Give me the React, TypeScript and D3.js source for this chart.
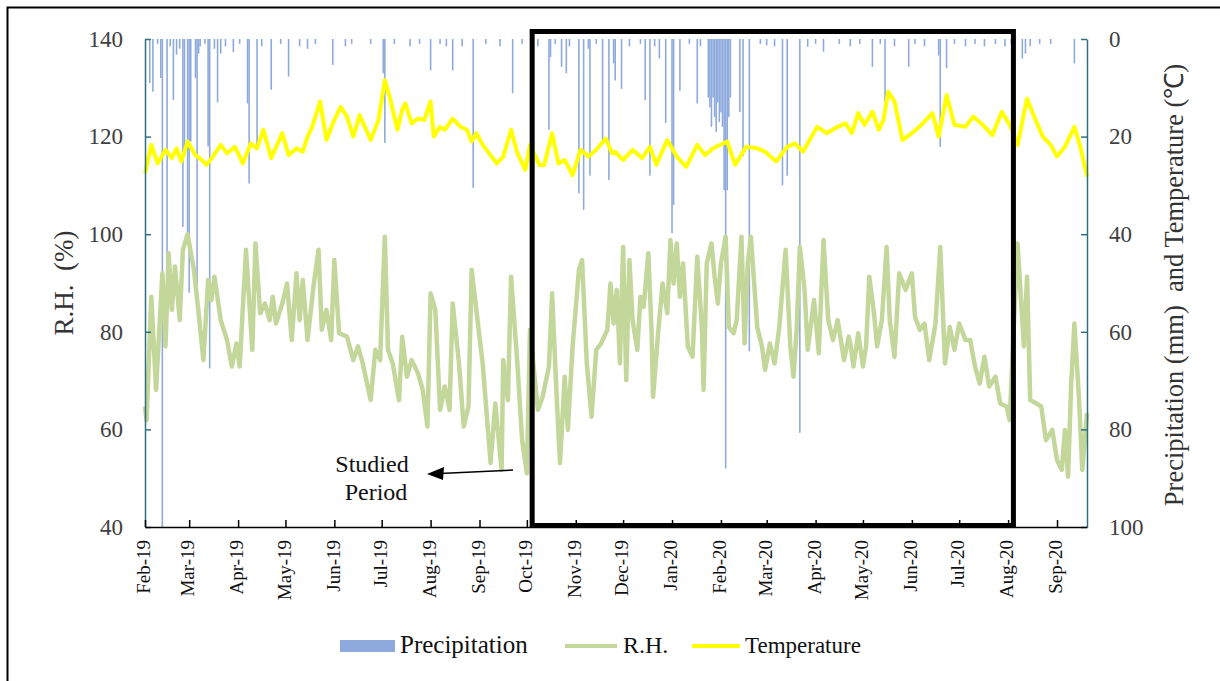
import React, { useEffect, useRef } from "react";
import * as d3 from "d3";

// day offsets are counted from 1 Feb 2019
const startDate = new Date(2019, 1, 1);
const lastDay = 597;

const monthLabels = [
  "Feb-19", "Mar-19", "Apr-19", "May-19", "Jun-19", "Jul-19", "Aug-19", "Sep-19", "Oct-19", "Nov-19",
  "Dec-19", "Jan-20", "Feb-20", "Mar-20", "Apr-20", "May-20", "Jun-20", "Jul-20", "Aug-20", "Sep-20",
];

const rhTicks = [40, 60, 80, 100, 120, 140];
const rightTicks = [0, 20, 40, 60, 80, 100];

// [day, °C]
const tempData = [
  [0, 27.5], [4, 21.7], [8, 25.5], [13, 22.7], [17, 24.4], [20, 22.4], [23, 25.1], [27, 21.0], [32, 23.8], [36, 24.8],
  [39, 25.8], [43, 24.1], [48, 21.7], [52, 23.4], [57, 22.1], [62, 25.5], [67, 21.4], [71, 22.4], [75, 18.6], [80, 24.4],
  [87, 19.3], [91, 23.8], [96, 22.4], [100, 23.1], [103, 20.0], [106, 18.0], [111, 12.8], [115, 20.7], [119, 17.3],
  [124, 13.9], [128, 15.9], [132, 20.0], [136, 15.6], [143, 20.7], [148, 16.6], [152, 8.4], [155, 11.8], [160, 18.6],
  [163, 14.5], [165, 13.2], [169, 17.3], [173, 16.3], [177, 16.6], [181, 12.8], [183, 20.0], [187, 18.0], [190, 18.6],
  [195, 16.3], [200, 18.0], [204, 18.6], [207, 21.0], [210, 19.3], [214, 21.7], [219, 23.8], [223, 25.5], [227, 24.1],
  [232, 18.6], [236, 23.4], [241, 26.8], [244, 21.7], [250, 25.8], [253, 25.8], [258, 19.3], [262, 25.5], [266, 24.8],
  [271, 27.9], [276, 22.7], [281, 24.1], [286, 22.7], [292, 20.4], [296, 23.4], [298, 23.1], [303, 24.8], [309, 22.7],
  [315, 24.4], [320, 22.1], [324, 25.8], [331, 20.7], [337, 24.1], [343, 26.2], [350, 21.7], [355, 23.8], [360, 22.4],
  [369, 21.0], [374, 25.8], [381, 22.1], [388, 22.4], [393, 23.1], [400, 25.1], [407, 22.1], [412, 21.4], [417, 23.1],
  [426, 18.0], [432, 19.3], [439, 18.0], [444, 17.3], [448, 19.3], [452, 15.2], [456, 17.6], [461, 14.9], [465, 18.6],
  [468, 16.6], [471, 10.8], [475, 12.8], [480, 20.7], [486, 19.3], [492, 17.6], [499, 15.2], [503, 20.0], [508, 11.5],
  [513, 17.6], [520, 18.0], [525, 15.9], [531, 17.6], [537, 19.7], [543, 14.9], [548, 17.6], [553, 21.7], [559, 12.2],
  [564, 16.3], [569, 20.0], [574, 21.7], [578, 24.1], [583, 22.1], [589, 18.0], [593, 22.4], [597, 28.2],
];

// [day, %]
const rhData = [
  [0, 64.7], [1, 61.9], [4, 87.2], [7, 68.1], [11, 92.0], [13, 77.0], [15, 96.1], [17, 84.5], [19, 93.4], [22, 82.4],
  [24, 96.8], [27, 100], [31, 92.7], [34, 83.8], [37, 74.2], [40, 90.6], [42, 86.5], [44, 91.3], [48, 82.4], [52, 78.3],
  [55, 72.9], [58, 77.6], [60, 72.9], [64, 96.8], [68, 76.3], [70, 98.1], [73, 83.8], [76, 85.8], [79, 82.4], [81, 87.2],
  [83, 81.7], [87, 85.8], [90, 89.9], [93, 78.3], [96, 92.0], [98, 82.4], [100, 90.6], [103, 78.3], [107, 89.9],
  [110, 96.8], [112, 80.4], [115, 84.5], [118, 78.3], [120, 94.7], [123, 79.7], [128, 79.0], [132, 74.2], [135, 77.0],
  [138, 73.5], [143, 66.0], [146, 76.3], [149, 74.2], [152, 99.5], [154, 76.3], [157, 73.5], [161, 66.0], [163, 79.0],
  [166, 70.8], [169, 74.2], [173, 71.5], [176, 68.1], [179, 60.6], [181, 87.9], [184, 84.5], [187, 64.0], [190, 68.8],
  [193, 64.0], [195, 85.8], [199, 73.5], [202, 60.6], [205, 64.7], [207, 92.7], [211, 81.7], [214, 73.5], [219, 53.1],
  [222, 65.3], [226, 51.7], [227, 74.2], [230, 66.0], [232, 91.3], [236, 73.5], [239, 57.8], [242, 51.0], [244, 80.4],
  [249, 64.0], [252, 66.7], [256, 72.9], [258, 87.9], [261, 66.0], [263, 53.1], [266, 70.8], [268, 59.9], [271, 77.0],
  [275, 92.7], [277, 94.7], [280, 73.5], [283, 62.6], [286, 76.3], [289, 77.6], [293, 80.4], [295, 89.9], [297, 81.7],
  [299, 88.6], [301, 73.5], [303, 97.4], [305, 70.1], [307, 94.7], [309, 82.4], [312, 76.3], [314, 87.2], [316, 85.1],
  [319, 96.1], [321, 80.4], [322, 66.7], [325, 79.0], [328, 89.9], [331, 83.8], [333, 98.8], [335, 89.9], [337, 98.1],
  [339, 87.2], [341, 94.0], [344, 77.0], [347, 74.9], [350, 95.4], [353, 80.4], [354, 68.1], [356, 94.0], [359, 98.1],
  [361, 91.3], [363, 85.8], [365, 94.0], [368, 99.5], [370, 81.0], [373, 79.7], [375, 82.4], [378, 99.5], [380, 77.6],
  [382, 94.0], [384, 99.5], [388, 81.0], [391, 77.0], [393, 72.2], [396, 77.6], [399, 73.5], [402, 81.0], [406, 96.8],
  [409, 77.0], [411, 70.8], [413, 80.4], [415, 97.4], [418, 88.6], [420, 76.3], [424, 86.5], [427, 75.6], [430, 98.8],
  [433, 82.4], [436, 78.3], [439, 82.4], [443, 74.2], [446, 79.0], [447, 77.6], [449, 72.9], [452, 79.7], [455, 72.9],
  [457, 77.0], [459, 91.3], [462, 83.8], [464, 77.0], [467, 82.4], [470, 97.4], [472, 82.4], [475, 74.9], [478, 92.0],
  [482, 88.6], [486, 92.0], [488, 83.1], [491, 80.4], [494, 81.7], [497, 74.2], [501, 81.7], [504, 97.4], [507, 73.5],
  [510, 81.0], [513, 76.3], [516, 81.7], [520, 78.3], [523, 78.3], [526, 72.9], [529, 69.4], [532, 74.9], [535, 68.8],
  [539, 70.8], [542, 65.3], [546, 64.7], [548, 61.9], [553, 98.1], [557, 77.0], [559, 91.3], [561, 66.0], [565, 65.3],
  [568, 64.7], [571, 57.8], [575, 59.9], [578, 53.7], [581, 51.7], [583, 59.9], [585, 50.3], [587, 69.4], [589, 81.7],
  [592, 66.0], [594, 51.7], [597, 63.3],
];

// [day, mm]
const precipData = [
  [3, 9], [5, 10.8], [8, 1], [10, 8], [11, 100], [14, 46.6], [16, 1.5], [18, 12.5], [20, 3.2], [22, 2], [24, 38.5],
  [25, 24], [27, 39.8], [28, 52], [29, 21], [32, 8], [33, 51.4], [34, 3], [35, 1.5], [38, 1], [40, 22], [41, 67.5],
  [44, 2], [46, 13], [48, 3], [51, 1.5], [56, 2.7], [60, 1], [65, 13.2], [66, 29.6], [71, 22.7], [74, 1.5], [80, 10.4],
  [86, 1], [91, 7.7], [98, 1.5], [103, 2], [108, 1], [119, 5.3], [127, 1.5], [131, 1], [143, 1], [151, 7], [152, 21.3],
  [158, 1], [168, 1.5], [174, 1], [181, 6.4], [187, 1], [191, 1.5], [195, 6.4], [201, 1.5], [208, 30.5], [216, 1],
  [225, 1.5], [233, 11.1], [239, 1], [249, 1.5], [256, 18.6], [257, 3.7], [260, 1], [264, 5.7], [267, 7], [269, 1.5],
  [275, 31.6], [278, 35], [281, 2], [282, 28], [286, 1], [290, 21.5], [294, 28.9], [297, 5], [298, 8.5], [302, 10.2],
  [307, 1.5], [314, 1], [317, 12.5], [320, 28], [323, 1.5], [326, 4], [330, 17.2], [334, 39.8], [335, 34], [339, 10.6],
  [345, 1], [350, 13.2], [352, 1.5], [357, 12], [358, 14], [359, 18], [360, 12], [361, 16], [362, 19], [363, 13],
  [364, 17], [365, 15], [366, 18], [367, 31], [368, 88], [369, 31], [370, 16], [371, 12], [377, 15], [379, 24],
  [383, 64], [390, 1], [394, 1.3], [399, 1.5], [404, 30], [407, 28], [415, 80.7], [420, 1.6], [425, 1], [430, 2.6],
  [440, 1], [447, 1.5], [453, 1], [461, 5.7], [466, 1], [469, 13], [475, 1.5], [484, 5.7], [488, 1], [494, 1.5],
  [503, 3.4], [504, 22.1], [508, 6], [513, 1], [520, 1.5], [526, 1], [532, 1.5], [539, 1], [545, 1.5], [549, 1],
  [556, 4], [558, 3], [561, 1.5], [567, 1], [574, 1], [589, 5],
];

const font = "'Liberation Serif', 'Times New Roman', serif";
const axisColor = "#2f6f7f";

function dayToDate(d: number) {
  return d3.timeDay.offset(startDate, d);
}

function App() {
  const ref = useRef<SVGSVGElement>(null);

  useEffect(() => {
    const svg = d3.select(ref.current);
    svg.selectAll("*").remove();

    const left = 145, right = 1087, top = 39, bottom = 527;

    const x = d3.scaleTime().domain([startDate, dayToDate(lastDay)]).range([left, right]);
    const yRH = d3.scaleLinear().domain([40, 140]).range([bottom, top]);
    const yRight = d3.scaleLinear().domain([0, 100]).range([top, bottom]);

    // outer frame
    svg.append("rect")
      .attr("x", 7.5).attr("y", 7.5).attr("width", 1240).attr("height", 720)
      .attr("fill", "none").attr("stroke", "#000").attr("stroke-width", 2);

    // precipitation bars hanging from the top
    const barW = x(dayToDate(1)) - x(dayToDate(0));
    svg.append("g").selectAll("rect")
      .data(precipData)
      .join("rect")
      .attr("x", d => x(dayToDate(d[0])) - barW / 2)
      .attr("y", yRight(0))
      .attr("width", barW)
      .attr("height", d => yRight(d[1]) - yRight(0))
      .attr("fill", "#8eaadc");

    const rhLine = d3.line<number[]>()
      .x(d => x(dayToDate(d[0])))
      .y(d => yRH(d[1]));
    svg.append("path")
      .datum(rhData)
      .attr("d", rhLine)
      .attr("fill", "none")
      .attr("stroke", "#c4d79b")
      .attr("stroke-width", 4.5)
      .attr("stroke-linejoin", "round");

    const tempLine = d3.line<number[]>()
      .x(d => x(dayToDate(d[0])))
      .y(d => yRight(d[1]));
    svg.append("path")
      .datum(tempData)
      .attr("d", tempLine)
      .attr("fill", "none")
      .attr("stroke", "#ffff00")
      .attr("stroke-width", 4)
      .attr("stroke-linejoin", "round");

    // left axis
    const gl = svg.append("g")
      .attr("transform", `translate(${left},0)`)
      .call(d3.axisLeft(yRH).tickValues(rhTicks).tickSizeInner(-6).tickSizeOuter(0).tickPadding(22));
    gl.select(".domain").attr("stroke", axisColor).attr("stroke-width", 1.5);
    gl.selectAll(".tick line").attr("stroke", axisColor).attr("stroke-width", 1.5);
    gl.selectAll(".tick text").attr("font-family", font).attr("font-size", 23).attr("fill", "#404040");

    // right axis
    const gr = svg.append("g")
      .attr("transform", `translate(${right},0)`)
      .call(d3.axisRight(yRight).tickValues(rightTicks).tickSizeInner(-6).tickSizeOuter(0).tickPadding(22));
    gr.select(".domain").attr("stroke", axisColor).attr("stroke-width", 1.5);
    gr.selectAll(".tick line").attr("stroke", axisColor).attr("stroke-width", 1.5);
    gr.selectAll(".tick text").attr("font-family", font).attr("font-size", 23).attr("fill", "#404040");

    // bottom axis with month ticks
    const months = monthLabels.map((m, i) => d3.timeMonth.offset(startDate, i));
    const gb = svg.append("g")
      .attr("transform", `translate(0,${bottom})`)
      .call(d3.axisBottom(x).tickValues(months).tickSizeInner(-7).tickSizeOuter(0)
        .tickFormat((d, i) => monthLabels[i]));
    gb.select(".domain").attr("stroke", "#000").attr("stroke-width", 1.5);
    gb.selectAll(".tick line").attr("stroke", "#000").attr("stroke-width", 1.5);
    gb.selectAll(".tick text")
      .attr("font-family", font)
      .attr("font-size", 19)
      .attr("fill", "#111")
      .attr("text-anchor", "end")
      .attr("transform", "translate(-2,13) rotate(-90)")
      .attr("x", 0).attr("y", 0).attr("dy", "0.35em");

    // studied period box
    svg.append("rect")
      .attr("x", x(dayToDate(246)) - 1).attr("y", 31.5)
      .attr("width", x(dayToDate(551)) - x(dayToDate(246)))
      .attr("height", bottom - 1.5 - 31.5)
      .attr("fill", "none").attr("stroke", "#000").attr("stroke-width", 5);

    // annotation
    svg.append("text").attr("x", 372).attr("y", 472).attr("text-anchor", "middle")
      .attr("font-family", font).attr("font-size", 24).attr("fill", "#111").text("Studied");
    svg.append("text").attr("x", 376).attr("y", 500).attr("text-anchor", "middle")
      .attr("font-family", font).attr("font-size", 24).attr("fill", "#111").text("Period");
    svg.append("line").attr("x1", 513).attr("y1", 470).attr("x2", 440).attr("y2", 473.5)
      .attr("stroke", "#000").attr("stroke-width", 1.5);
    svg.append("path").attr("d", "M427,474 L444,467 L443,480 Z").attr("fill", "#000");

    // axis titles
    svg.append("text")
      .attr("transform", "translate(73,283) rotate(-90)")
      .attr("text-anchor", "middle")
      .attr("font-family", font).attr("font-size", 27).attr("fill", "#333")
      .attr("xml:space", "preserve")
      .text("R.H.  (%)");
    svg.append("text")
      .attr("transform", "translate(1183,285) rotate(-90)")
      .attr("text-anchor", "middle")
      .attr("font-family", font).attr("font-size", 26.5).attr("fill", "#333")
      .attr("xml:space", "preserve")
      .text("Precipitation (mm)  and Temperature (\u2103)");

    // legend
    const lg = svg.append("g").attr("font-family", font).attr("font-size", 24).attr("fill", "#111");
    lg.append("rect").attr("x", 340).attr("y", 640).attr("width", 55).attr("height", 12).attr("fill", "#8eaadc");
    lg.append("text").attr("x", 400).attr("y", 653).attr("font-size", 25).text("Precipitation");
    lg.append("line").attr("x1", 565).attr("x2", 617).attr("y1", 646).attr("y2", 646)
      .attr("stroke", "#c4d79b").attr("stroke-width", 4);
    lg.append("text").attr("x", 623).attr("y", 653).text("R.H.");
    lg.append("line").attr("x1", 692).attr("x2", 740).attr("y1", 646).attr("y2", 646)
      .attr("stroke", "#ffff00").attr("stroke-width", 4);
    lg.append("text").attr("x", 745).attr("y", 653).attr("font-size", 23).text("Temperature");
  }, []);

  return (
    <svg ref={ref} width={1220} height={681}
      style={{ position: "absolute", left: 0, top: 0, background: "#fff" }} />
  );
}

export default App;
